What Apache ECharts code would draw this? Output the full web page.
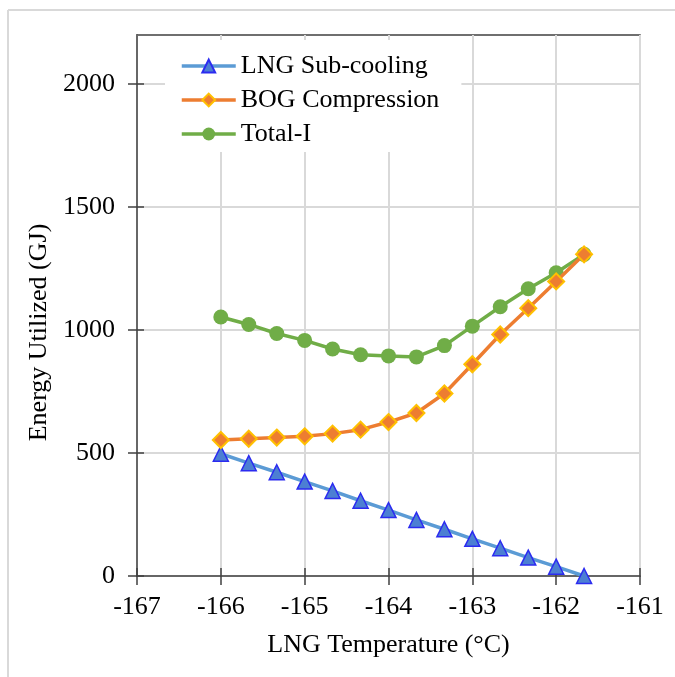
<!DOCTYPE html>
<html>
<head>
<meta charset="utf-8">
<script src="https://cdn.jsdelivr.net/npm/echarts@6/dist/echarts.min.js"></script>
<style>
  html, body { margin: 0; padding: 0; background: #fff; }
  #main { width: 675px; height: 677px; }
</style>
</head>
<body>
<div id="main"></div>
<script>
// LNG temperature (°C)
const temps = [-166, -165.667, -165.333, -165, -164.667, -164.333, -164,
  -163.667, -163.333, -163, -162.667, -162.333, -162, -161.667];
// energy utilized (GJ)
const subCooling = [497, 459, 422, 384, 346, 306, 268, 228, 190, 151, 113, 75, 38, 0];
const bogCompression = [553, 558, 563, 568, 579, 595, 626, 663, 742, 861, 982, 1089, 1198, 1308];
const totalI = [1053, 1023, 986, 958, 923, 900, 895, 891, 937, 1016, 1095, 1168, 1233, 1308];
const yTicks = [0, 500, 1000, 1500, 2000];

const serif = '"Liberation Serif", "Times New Roman", serif';

const chartDom = document.getElementById('main');
const myChart = echarts.init(chartDom);

const pairs = vals => temps.map((t, i) => [t, vals[i]]);

const option = {
  animation: false,
  backgroundColor: '#fff',
  graphic: [
    { type: 'line', shape: { x1: 8, y1: 10, x2: 675, y2: 10 }, style: { stroke: '#d9d9d9', lineWidth: 2 } },
    { type: 'line', shape: { x1: 8, y1: 10, x2: 8, y2: 677 }, style: { stroke: '#d9d9d9', lineWidth: 2 } }
  ],
  grid: {
    left: 137, right: 35, top: 35, bottom: 101,
    show: true, borderColor: '#404040', borderWidth: 1.5
  },
  legend: {
    orient: 'vertical',
    left: 165, top: 40,
    padding: [13, 22, 5, 15],
    backgroundColor: '#fff',
    itemWidth: 54, itemHeight: 16, itemGap: 8,
    lineStyle: { width: 3.5 },
    textStyle: { fontFamily: serif, fontSize: 26, color: '#000', lineHeight: 26 },
    data: ['LNG Sub-cooling', 'BOG Compression', 'Total-I']
  },
  xAxis: [
    {
      type: 'value', min: -167, max: -161, interval: 1,
      name: 'LNG Temperature (°C)', nameLocation: 'middle', nameGap: 56,
      nameTextStyle: { fontFamily: serif, fontSize: 26, color: '#000' },
      axisLine: { onZero: false, lineStyle: { color: '#404040', width: 1.5 } },
      axisTick: { show: true, length: 9, lineStyle: { color: '#404040', width: 1.5 } },
      axisLabel: { margin: 18, fontFamily: serif, fontSize: 26, color: '#000' },
      splitLine: { show: true, lineStyle: { color: '#d9d9d9', width: 2 } }
    },
    {
      // inward half of the crossing ticks
      type: 'value', min: -167, max: -161, interval: 1, position: 'bottom',
      axisLine: { show: false },
      axisTick: { show: true, inside: true, length: 8, lineStyle: { color: '#404040', width: 1.5 } },
      axisLabel: { show: false },
      splitLine: { show: false }
    }
  ],
  yAxis: [
    {
      type: 'value', min: 0, max: 2200, interval: 500,
      name: 'Energy Utilized (GJ)', nameLocation: 'middle', nameGap: 84,
      nameTextStyle: { fontFamily: serif, fontSize: 26, color: '#000', padding: [0, 54, 0, 0] },
      axisLine: { show: true, onZero: false, lineStyle: { color: '#404040', width: 1.5 } },
      axisTick: { show: true, length: 9, customValues: yTicks, lineStyle: { color: '#404040', width: 1.5 } },
      axisLabel: {
        margin: 22, fontFamily: serif, fontSize: 26, color: '#000',
        customValues: yTicks,
        formatter: v => String(v)
      },
      splitLine: { show: true, lineStyle: { color: '#d9d9d9', width: 2 } }
    },
    {
      type: 'value', min: 0, max: 2200, interval: 500, position: 'left',
      axisLine: { show: false },
      axisTick: { show: true, inside: true, length: 7, customValues: yTicks, lineStyle: { color: '#404040', width: 1.5 } },
      axisLabel: { show: false },
      splitLine: { show: false }
    }
  ],
  series: [
    {
      name: 'LNG Sub-cooling', type: 'line', data: pairs(subCooling),
      symbol: 'triangle', symbolSize: 15,
      lineStyle: { color: '#5B9BD5', width: 3.5 },
      itemStyle: { color: '#4C7FD3', borderColor: '#2B2BF0', borderWidth: 1.5 },
      z: 3
    },
    {
      name: 'BOG Compression', type: 'line', data: pairs(bogCompression),
      symbol: 'diamond', symbolSize: 16,
      lineStyle: { color: '#ED7D31', width: 3.5 },
      itemStyle: { color: '#ED7D31', borderColor: '#FFC000', borderWidth: 2 },
      z: 4
    },
    {
      name: 'Total-I', type: 'line', data: pairs(totalI),
      symbol: 'circle', symbolSize: 15,
      lineStyle: { color: '#70AD47', width: 3.5 },
      itemStyle: { color: '#70AD47', borderWidth: 0 },
      z: 2
    }
  ]
};

myChart.setOption(option);
</script>
</body>
</html>
